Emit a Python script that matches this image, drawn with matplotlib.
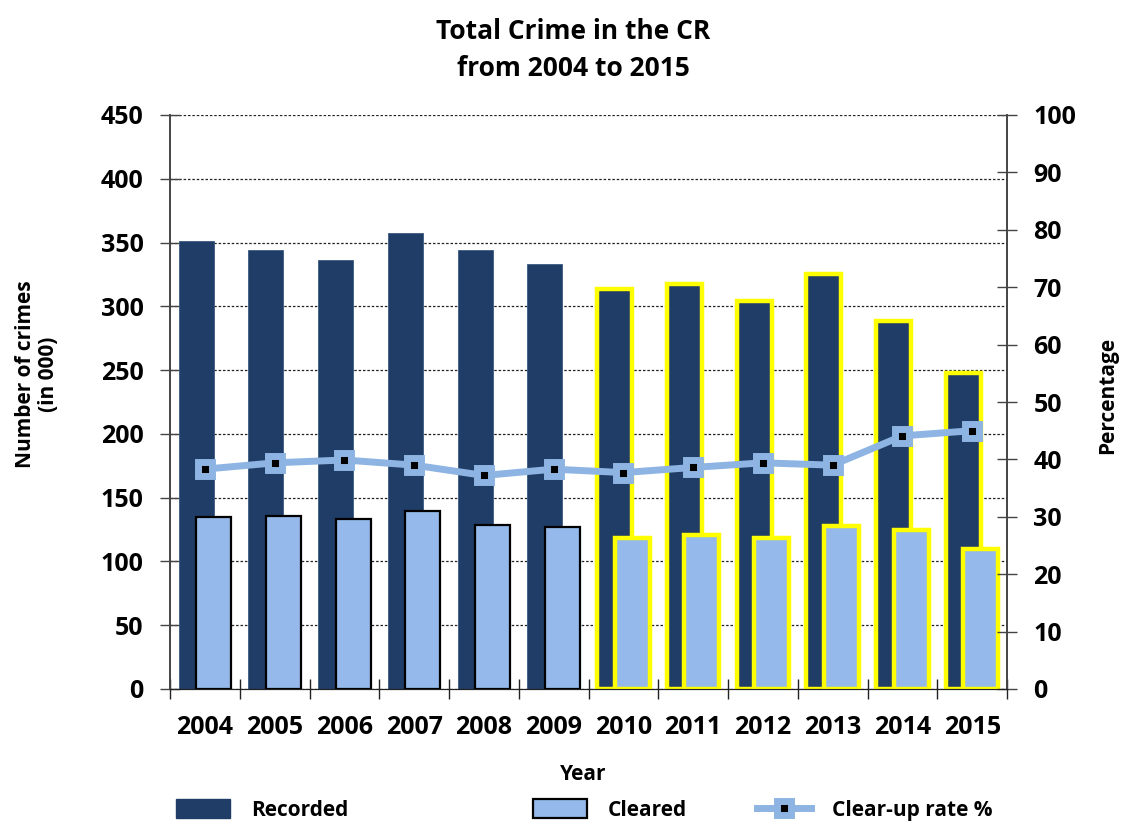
import numpy as np
import matplotlib.pyplot as plt
from matplotlib.patches import Patch
from matplotlib.lines import Line2D

# data (thousands of crimes, clear-up rate in %)
years = ['2004', '2005', '2006', '2007', '2008', '2009',
         '2010', '2011', '2012', '2013', '2014', '2015']
recorded = [351.6, 344.1, 336.4, 357.4, 343.8, 332.8,
            313.4, 317.2, 304.5, 325.4, 288.7, 247.6]
cleared = [134.5, 135.6, 133.3, 139.5, 128.6, 127.2,
           118.0, 121.0, 118.5, 128.0, 124.8, 110.0]
rate = [38.3, 39.4, 39.9, 39.0, 37.2, 38.3,
        37.7, 38.6, 39.4, 39.0, 44.1, 45.0]
highlight = ['2010', '2011', '2012', '2013', '2014', '2015']

dark = '#1F3D66'
light = '#95B9EA'
line_col = '#8DB4E2'
yellow = '#FFFF00'

plt.rcParams['font.family'] = ['Open Sans', 'DejaVu Sans']
plt.rcParams['font.weight'] = 'bold'

fig = plt.figure(figsize=(11.22, 8.25), dpi=100)
ax = fig.add_axes([170 / 1122, 1 - 689 / 825, 837 / 1122, 574 / 825])
ax2 = ax.twinx()

x = np.arange(len(years))
w = 0.5
hl = np.array([y in highlight for y in years])

ax.set_axisbelow(True)
ax.yaxis.grid(True, color='#222222', linestyle=(0, (2, 1.5)), linewidth=0.9)

# recorded bars
ax.bar(x[~hl] - 0.125, np.array(recorded)[~hl], w, color=dark,
       edgecolor='#3a5a82', linewidth=0.6, zorder=2)
ax.bar(x[hl] - 0.125, np.array(recorded)[hl], w, color=dark,
       edgecolor=yellow, linewidth=3.2, zorder=2)
# cleared bars
ax.bar(x[~hl] + 0.125, np.array(cleared)[~hl], w, color=light,
       edgecolor='black', linewidth=1.6, zorder=3)
ax.bar(x[hl] + 0.125, np.array(cleared)[hl], w, color=light,
       edgecolor=yellow, linewidth=3.2, zorder=3)

ax.set_xlim(-0.5, len(years) - 0.5)
ax.set_ylim(0, 450)
ax.set_yticks(np.arange(0, 451, 50))
ax.set_xticks(x)
ax.set_xticklabels(years)
ax.set_xticks(np.arange(len(years) + 1) - 0.5, minor=True)
ax.tick_params(axis='x', which='major', length=0, pad=19, labelsize=18)
ax.tick_params(axis='x', which='minor', direction='inout', length=14,
               width=1, color='#222222')
ax.tick_params(axis='y', direction='inout', length=14, width=1,
               color='#444444', pad=12, labelsize=18)

ax2.plot(x, rate, color=line_col, linewidth=5, marker='s', markersize=9.5,
         markerfacecolor='black', markeredgecolor=line_col,
         markeredgewidth=5, solid_joinstyle='round', zorder=5)
ax2.set_ylim(0, 100)
ax2.set_yticks(np.arange(0, 101, 10))
ax2.tick_params(axis='y', direction='inout', length=14, width=1,
                color='#444444', pad=12, labelsize=18)

for a in (ax, ax2):
    a.spines['top'].set_visible(False)
    a.spines['left'].set_color('#444444')
    a.spines['right'].set_color('#444444')
    a.spines['bottom'].set_color('#222222')
    a.spines['left'].set_linewidth(1.2)
    a.spines['right'].set_linewidth(1.2)

fig.text(37 / 1122, 1 - 374 / 825, 'Number of crimes\n(in 000)', rotation=90,
         ha='center', va='center', fontsize=15, fontweight='bold',
         linespacing=1.1)
fig.text(1108 / 1122, 1 - 395 / 825, 'Percentage', rotation=90,
         ha='center', va='center', fontsize=15, fontweight='bold')
fig.text(583 / 1122, 1 - 774 / 825, 'Year', ha='center', va='center',
         fontsize=15, fontweight='bold')
fig.text(573 / 1122, 1 - 50 / 825, 'Total Crime in the CR\nfrom 2004 to 2015',
         ha='center', va='center', fontsize=19, fontweight='bold',
         linespacing=1.45)

# legend, three separate entries like the original
ly = 1 - 810 / 825
entries = [
    (176, Patch(facecolor=dark, edgecolor=dark), 'Recorded'),
    (533, Patch(facecolor=light, edgecolor='black', linewidth=1.6), 'Cleared'),
    (757, Line2D([], [], color=line_col, linewidth=5, marker='s',
                 markersize=9.5, markerfacecolor='black',
                 markeredgecolor=line_col, markeredgewidth=5), 'Clear-up rate %'),
]
for px, h, lab in entries:
    fig.legend([h], [lab], loc='center left', bbox_to_anchor=(px / 1122, ly),
               frameon=False, borderpad=0, borderaxespad=0, handlelength=2.6,
               handleheight=1.0, handletextpad=1.0,
               prop={'weight': 'bold', 'size': 15})

fig.savefig('out.png', dpi=100)
